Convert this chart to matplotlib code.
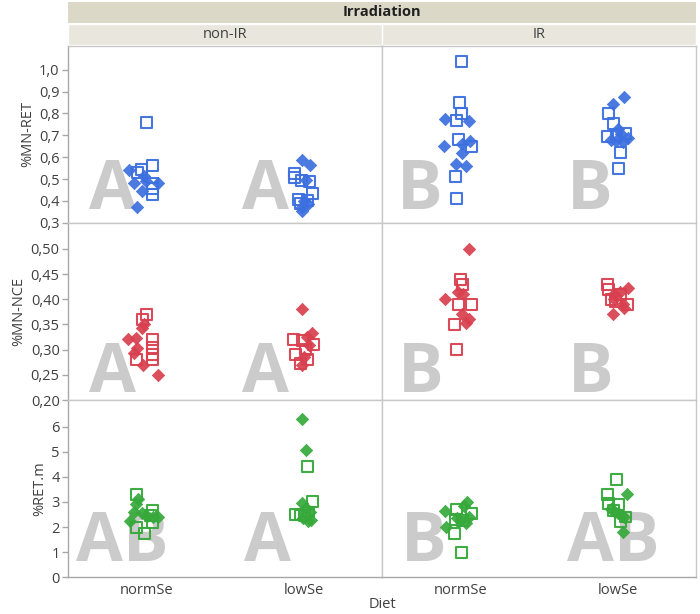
import matplotlib
matplotlib.use("Agg")
import matplotlib.pyplot as plt
from matplotlib.patches import Rectangle

plt.rcParams['font.family'] = ['Open Sans', 'DejaVu Sans']

# ---------------- data ----------------
diets = ['normSe', 'lowSe']
irradiation = ['non-IR', 'IR']
metrics = ['%MN-RET', '%MN-NCE', '%RET.m']

# %MN-RET  (open squares / filled diamonds), jitter in pixels
mnret_nonir_norm_sq = [0.76, 0.56, 0.545, 0.53, 0.48, 0.455, 0.43]
mnret_nonir_norm_sq_jit = [0, 6, -5, -9, 6, 6, 6]
mnret_nonir_norm_di = [0.54, 0.515, 0.49, 0.48, 0.48, 0.445, 0.37]
mnret_nonir_norm_di_jit = [-18, -3, -1, 11, -13, -5, -10]
mnret_nonir_low_sq = [0.525, 0.505, 0.495, 0.49, 0.435, 0.405, 0.40, 0.39]
mnret_nonir_low_sq_jit = [-9, -9, -2, 6, 9, -5, 4, -3]
mnret_nonir_low_di = [0.585, 0.565, 0.495, 0.40, 0.385, 0.37, 0.355]
mnret_nonir_low_di_jit = [-2, 6, 2, 0, 4, -2, -2]
mnret_ir_norm_sq = [1.04, 0.85, 0.80, 0.77, 0.68, 0.65, 0.51, 0.41]
mnret_ir_norm_sq_jit = [1, -1, 1, -4, -2, 11, -5, -4]
mnret_ir_norm_di = [0.775, 0.765, 0.675, 0.66, 0.65, 0.62, 0.57, 0.56]
mnret_ir_norm_di_jit = [-16, 8, 9, 1, -17, 1, -5, 5]
mnret_ir_low_sq = [0.80, 0.755, 0.71, 0.70, 0.695, 0.62, 0.55]
mnret_ir_low_sq_jit = [-9, -4, 8, -1, -10, 3, 1]
mnret_ir_low_di = [0.875, 0.845, 0.73, 0.705, 0.69, 0.68, 0.675, 0.67]
mnret_ir_low_di_jit = [6, -5, 0, 3, 10, -7, -2, 5]

# %MN-NCE
mnnce_nonir_norm_sq = [0.37, 0.36, 0.32, 0.305, 0.29, 0.28, 0.28]
mnnce_nonir_norm_sq_jit = [0, -4, 6, 6, 6, 6, -10]
mnnce_nonir_norm_di = [0.35, 0.343, 0.323, 0.321, 0.303, 0.293, 0.27, 0.25]
mnnce_nonir_norm_di_jit = [-3, -5, -11, -19, -10, -13, -4, 11]
mnnce_nonir_low_sq = [0.32, 0.318, 0.31, 0.30, 0.29, 0.28, 0.272]
mnnce_nonir_low_sq_jit = [-10, -1, 10, 2, -8, 4, -3]
mnnce_nonir_low_di = [0.38, 0.333, 0.325, 0.31, 0.285, 0.27]
mnnce_nonir_low_di_jit = [-2, 8, 3, 5, 0, -2]
mnnce_ir_norm_sq = [0.44, 0.43, 0.39, 0.39, 0.35, 0.30]
mnnce_ir_norm_sq_jit = [0, 2, -2, 11, -6, -4]
mnnce_ir_norm_di = [0.50, 0.415, 0.41, 0.40, 0.37, 0.36, 0.352]
mnnce_ir_norm_di_jit = [8, -3, 2, -16, 1, 8, 5]
mnnce_ir_low_sq = [0.43, 0.42, 0.41, 0.40, 0.39, 0.395]
mnnce_ir_low_sq_jit = [-10, -9, 3, -6, 10, -2]
mnnce_ir_low_di = [0.422, 0.415, 0.41, 0.40, 0.39, 0.382, 0.37]
mnnce_ir_low_di_jit = [10, 2, -4, -4, 5, 6, -5]

# %RET.m
retm_nonir_norm_sq = [3.3, 2.65, 2.45, 2.2, 2.0, 1.75]
retm_nonir_norm_sq_jit = [-10, 6, 4, 6, -10, -2]
retm_nonir_norm_di = [3.1, 2.9, 2.6, 2.58, 2.45, 2.42, 2.4, 2.25]
retm_nonir_norm_di_jit = [-9, -11, -13, -5, 0, 6, 11, -17]
retm_nonir_low_sq = [4.4, 3.0, 2.6, 2.5, 2.48, 2.45]
retm_nonir_low_sq_jit = [4, 9, 5, -8, -3, 1]
retm_nonir_low_di = [6.3, 5.05, 2.95, 2.75, 2.6, 2.35, 2.3, 2.25]
retm_nonir_low_di_jit = [-2, 2, -2, 2, 6, -1, 7, 4]
retm_ir_norm_sq = [2.7, 2.55, 2.3, 2.25, 1.75, 1.0]
retm_ir_norm_sq_jit = [-4, 11, -5, 2, -6, 1]
retm_ir_norm_di = [3.0, 2.85, 2.65, 2.4, 2.35, 2.15, 2.0, 2.3]
retm_ir_norm_di_jit = [6, 3, -16, 8, -4, 5, -15, 0]
retm_ir_low_sq = [3.9, 3.28, 2.95, 2.9, 2.65, 2.4, 2.22]
retm_ir_low_sq_jit = [-1, -10, -9, 1, -4, 8, 3]
retm_ir_low_di = [3.32, 2.7, 2.6, 2.55, 2.45, 2.4, 1.8]
retm_ir_low_di_jit = [9, -7, -3, 0, 4, 6, 5]

# significance letters (order: non-IR normSe, non-IR lowSe, IR normSe, IR lowSe)
letters_mnret = ['A', 'A', 'B', 'B']
letters_mnnce = ['A', 'A', 'B', 'B']
letters_retm = ['AB', 'A', 'B', 'AB']

# ---------------- layout / styles ----------------
W, H = 700, 614
fig = plt.figure(figsize=(W / 100, H / 100), dpi=100)

colors = ['#3c6fdf', '#d8404f', '#36a93a']
PX_PER_UNIT = 157.0  # horizontal pixels per category unit

rows_px = [(46, 222.7), (222.7, 400), (400, 577.3)]
cols_px = [(68, 382), (382, 696)]

ylims = [(0.3, 1.109), (0.20, 0.552), (0.0, 7.06)]
yticks = [
    [0.3, 0.4, 0.5, 0.6, 0.7, 0.8, 0.9, 1.0],
    [0.20, 0.25, 0.30, 0.35, 0.40, 0.45, 0.50],
    [0, 1, 2, 3, 4, 5, 6],
]
ytick_fmt = ['{:.1f}', '{:.2f}', '{:.0f}']

data = [
    [[(mnret_nonir_norm_sq, mnret_nonir_norm_sq_jit, mnret_nonir_norm_di, mnret_nonir_norm_di_jit),
      (mnret_nonir_low_sq, mnret_nonir_low_sq_jit, mnret_nonir_low_di, mnret_nonir_low_di_jit)],
     [(mnret_ir_norm_sq, mnret_ir_norm_sq_jit, mnret_ir_norm_di, mnret_ir_norm_di_jit),
      (mnret_ir_low_sq, mnret_ir_low_sq_jit, mnret_ir_low_di, mnret_ir_low_di_jit)]],
    [[(mnnce_nonir_norm_sq, mnnce_nonir_norm_sq_jit, mnnce_nonir_norm_di, mnnce_nonir_norm_di_jit),
      (mnnce_nonir_low_sq, mnnce_nonir_low_sq_jit, mnnce_nonir_low_di, mnnce_nonir_low_di_jit)],
     [(mnnce_ir_norm_sq, mnnce_ir_norm_sq_jit, mnnce_ir_norm_di, mnnce_ir_norm_di_jit),
      (mnnce_ir_low_sq, mnnce_ir_low_sq_jit, mnnce_ir_low_di, mnnce_ir_low_di_jit)]],
    [[(retm_nonir_norm_sq, retm_nonir_norm_sq_jit, retm_nonir_norm_di, retm_nonir_norm_di_jit),
      (retm_nonir_low_sq, retm_nonir_low_sq_jit, retm_nonir_low_di, retm_nonir_low_di_jit)],
     [(retm_ir_norm_sq, retm_ir_norm_sq_jit, retm_ir_norm_di, retm_ir_norm_di_jit),
      (retm_ir_low_sq, retm_ir_low_sq_jit, retm_ir_low_di, retm_ir_low_di_jit)]],
]
letters = [letters_mnret, letters_mnnce, letters_retm]
# letter centre offsets (px from category) and baseline (axes fraction)
letter_dx = [
    [-34, -38, -41, -28],
    [-34, -38, -40, -27],
    [-24, -36, -37, -4],
]
letter_base = [0.075, 0.045, 0.09]

frame_col = '#c8c8c8'
axis_col = '#a8a8a8'
text_col = '#404040'

for r in range(3):
    y0, y1 = rows_px[r]
    for c in range(2):
        x0, x1 = cols_px[c]
        ax = fig.add_axes([x0 / W, (H - y1) / H, (x1 - x0) / W, (y1 - y0) / H])
        ax.set_xlim(-0.5, 1.5)
        ax.set_ylim(*ylims[r])
        for s in ax.spines.values():
            s.set_color(frame_col)
            s.set_linewidth(1.0)
        ax.set_xticks([0, 1])
        if r == 2:
            ax.set_xticklabels(diets, fontsize=10.5, color=text_col)
            ax.tick_params(axis='x', length=0, pad=4)
        else:
            ax.set_xticklabels([])
            ax.tick_params(axis='x', length=0)
        ax.set_yticks(yticks[r])
        if c == 0:
            ax.spines['left'].set_color(axis_col)
            ax.set_yticklabels([ytick_fmt[r].format(v).replace('.', ',') for v in yticks[r]],
                               fontsize=10.5, color=text_col)
            ax.tick_params(axis='y', length=4, width=1, color=axis_col, pad=2)
            ax.set_ylabel(metrics[r], fontsize=10.5, color=text_col, labelpad=3)
        else:
            ax.set_yticklabels([])
            ax.tick_params(axis='y', length=0)
        if r == 2:
            ax.spines['bottom'].set_color(axis_col)

        # letters
        for d in range(2):
            k = c * 2 + d
            ax.text(d + letter_dx[r][k] / PX_PER_UNIT, letter_base[r], letters[r][k],
                    transform=ax.get_xaxis_transform(), ha='center', va='baseline',
                    fontsize=49, fontweight='bold', color='#cbcbcb', zorder=1)

        # points
        for d in range(2):
            sq, sqj, di, dij = data[r][c][d]
            ax.scatter([d + j / PX_PER_UNIT for j in dij], di, marker='D', s=40,
                       facecolor=colors[r], edgecolor=colors[r], linewidths=0.5,
                       alpha=0.92, zorder=3)
            ax.scatter([d + j / PX_PER_UNIT for j in sqj], sq, marker='s', s=62,
                       facecolor='none', edgecolor=colors[r], linewidths=1.5,
                       alpha=0.95, zorder=4)

# header bands
band1 = fig.add_axes([68 / W, (H - 22.5) / H, (696 - 68) / W, 20.5 / H])
band1.set_xlim(0, 1); band1.set_ylim(0, 1); band1.axis('off')
band1.add_patch(Rectangle((0, 0), 1, 1, facecolor='#dbd8c7', edgecolor='none'))
band1.text(0.5, 0.5, 'Irradiation', ha='center', va='center', fontsize=10.5,
           fontweight='bold', color='#202020')

for c in range(2):
    x0, x1 = cols_px[c]
    b = fig.add_axes([x0 / W, (H - 45) / H, (x1 - x0) / W, 21.5 / H])
    b.set_xlim(0, 1); b.set_ylim(0, 1); b.axis('off')
    b.add_patch(Rectangle((0, 0), 1, 1, facecolor='#e9e7dd', edgecolor='white', linewidth=1.0))
    b.text(0.5, 0.5, irradiation[c], ha='center', va='center', fontsize=10.5, color=text_col)

fig.text(382 / W, 1 - 604 / H, 'Diet', ha='center', va='center', fontsize=10.5, color=text_col)

fig.savefig('out.png', dpi=100, facecolor='white')
